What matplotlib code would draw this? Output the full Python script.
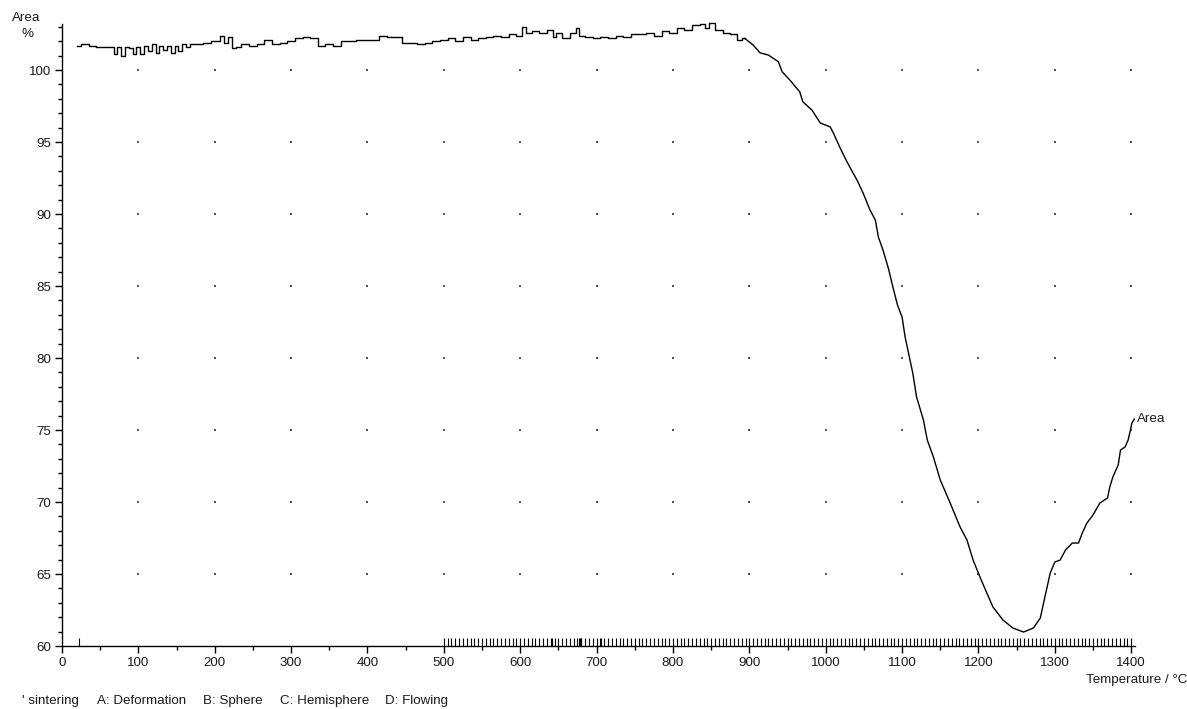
import matplotlib
matplotlib.use("Agg")
import matplotlib.pyplot as plt
from matplotlib.ticker import MultipleLocator

plt.rcParams['font.family'] = ['Liberation Sans', 'DejaVu Sans']

# ---- data ----
temperature = [
    20, 30, 40, 50, 60, 65, 70, 75, 80, 85, 90, 95, 100, 105, 110, 115, 120, 125, 130, 135,
    140, 145, 150, 155, 160, 165, 170, 180, 190, 200, 205, 210, 215, 220, 225, 230, 240, 250,
    260, 270, 280, 290, 300, 310, 320, 330, 340, 350, 360, 370, 380, 390, 400, 410, 420, 430,
    440, 450, 460, 470, 480, 490, 500, 510, 520, 530, 540, 550, 560, 570, 580, 590, 600, 605,
    610, 620, 630, 640, 645, 650, 660, 670, 675, 680, 690, 700, 710, 720, 730, 740, 750, 760,
    770, 780, 790, 800, 810, 820, 830, 840, 845, 850, 860, 870, 880, 888, 894,
    905, 914, 925, 938, 943, 953, 966, 970, 982, 993, 1006, 1010, 1019, 1028, 1041, 1049,
    1058, 1065, 1069, 1075, 1082, 1088, 1094, 1100, 1104, 1114, 1119, 1128, 1133, 1141,
    1150, 1163, 1176, 1185, 1193, 1202, 1211, 1219, 1232, 1245, 1259, 1272, 1281, 1287,
    1294, 1300, 1307, 1314, 1323, 1331, 1336, 1342, 1350, 1359, 1369, 1372, 1376, 1383,
    1386, 1392, 1396, 1399, 1401, 1404,
]
area = [
    101.7, 101.8, 101.7, 101.6, 101.6, 101.6, 101.1, 101.6, 101.0, 101.6, 101.5, 101.1, 101.6,
    101.1, 101.7, 101.3, 101.8, 101.2, 101.7, 101.4, 101.7, 101.2, 101.7, 101.3, 101.8, 101.6,
    101.8, 101.8, 101.9, 102.0, 102.0, 102.4, 101.9, 102.3, 101.5, 101.6, 101.8, 101.7, 101.8,
    102.1, 101.8, 101.9, 102.0, 102.2, 102.3, 102.2, 101.7, 101.8, 101.7, 102.0, 102.0, 102.1,
    102.1, 102.1, 102.4, 102.3, 102.3, 101.9, 101.9, 101.8, 101.9, 102.0, 102.1, 102.2, 102.0,
    102.3, 102.1, 102.2, 102.3, 102.4, 102.3, 102.5, 102.4, 103.0, 102.6, 102.7, 102.6, 102.8,
    102.3, 102.6, 102.2, 102.6, 102.9, 102.4, 102.3, 102.2, 102.3, 102.2, 102.4, 102.3, 102.5,
    102.5, 102.6, 102.4, 102.7, 102.6, 102.9, 102.8, 103.1, 103.2, 102.9, 103.3, 102.8, 102.6,
    102.5, 102.1, 102.2,
    101.74, 101.2, 101.04, 100.58, 99.88, 99.31, 98.49, 97.8, 97.22, 96.32, 96.05, 95.63,
    94.58, 93.61, 92.36, 91.46, 90.28, 89.58, 88.4, 87.5, 86.25, 84.93, 83.68, 82.85, 81.46,
    78.96, 77.29, 75.69, 74.31, 73.13, 71.53, 69.93, 68.26, 67.36, 65.97, 64.79, 63.68,
    62.71, 61.81, 61.25, 60.97, 61.25, 61.94, 63.4, 65.07, 65.83, 65.97, 66.67, 67.15,
    67.15, 67.85, 68.54, 69.1, 69.93, 70.28, 71.04, 71.74, 72.57, 73.61, 73.82, 74.31,
    75.0, 75.49, 75.76,
]
x_major = [0, 100, 200, 300, 400, 500, 600, 700, 800, 900, 1000, 1100, 1200, 1300, 1400]
y_major = [60, 65, 70, 75, 80, 85, 90, 95, 100]
grid_x = [100, 200, 300, 400, 500, 600, 700, 800, 900, 1000, 1100, 1200, 1300, 1400]
grid_y = [65, 70, 75, 80, 85, 90, 95, 100]
marks = [22] + list(range(500, 1405, 5)) + [641, 677, 678, 679, 706]
legend_items = ["' sintering", "A: Deformation", "B: Sphere", "C: Hemisphere", "D: Flowing"]
legend_x_px = [22, 97, 203, 280, 385]

FS = 9.6
W, H = 1187, 709
fig = plt.figure(figsize=(W / 100, H / 100), dpi=100)
ax = fig.add_axes([62 / W, 1 - 646 / H, (1135 - 62) / W, (646 - 24) / H])
ax.set_xlim(0, 1405)
ax.set_ylim(60, 103.2)

for s in ['top', 'right']:
    ax.spines[s].set_visible(False)
for s in ['left', 'bottom']:
    ax.spines[s].set_linewidth(1.0)
    ax.spines[s].set_color('black')

txtcol = '#1a1a1a'
ax.set_xticks(x_major)
ax.set_yticks(y_major)
ax.xaxis.set_minor_locator(MultipleLocator(50))
ax.yaxis.set_minor_locator(MultipleLocator(1))
ax.tick_params(which='major', length=5, width=1, direction='out', labelsize=FS,
               colors='black', labelcolor=txtcol, pad=3)
ax.tick_params(which='minor', length=3, width=1, direction='out', colors='black')

# grid dots at major intersections
gx = [x for x in grid_x for _ in grid_y]
gy = [y for _ in grid_x for y in grid_y]
ax.scatter(gx, gy, s=1.2, color='#555555', marker='s', linewidths=0, zorder=1)

# measurement marks on x axis
ax.vlines(marks, 0, 0.013, transform=ax.get_xaxis_transform(), colors='black',
          linewidth=0.8, clip_on=False)

# flat, noisy part drawn as a staircase like the instrument trace; the rest as a line
split = temperature.index(894) + 1
ax.plot(temperature[:split], area[:split], color='black', lw=1.0, clip_on=False,
        zorder=3, drawstyle='steps-mid')
ax.plot(temperature[split - 1:], area[split - 1:], color='black', lw=1.0, clip_on=False,
        zorder=3)

# end label
ax.text(temperature[-1] + 3, area[-1], 'Area', fontsize=FS, color=txtcol,
        ha='left', va='center')

# axis labels
fig.text(26 / W, 1 - 18 / H, 'Area', fontsize=FS, color=txtcol, ha='center', va='center')
fig.text(27 / W, 1 - 34 / H, '%', fontsize=FS, color=txtcol, ha='center', va='center')
fig.text(1187 / W, 1 - 680 / H, 'Temperature / °C', fontsize=FS, color=txtcol,
         ha='right', va='center')

for lbl, xp in zip(legend_items, legend_x_px):
    fig.text(xp / W, 1 - 701 / H, lbl, fontsize=FS, color=txtcol, ha='left', va='center')

fig.savefig('out.png', dpi=100, facecolor='white')
